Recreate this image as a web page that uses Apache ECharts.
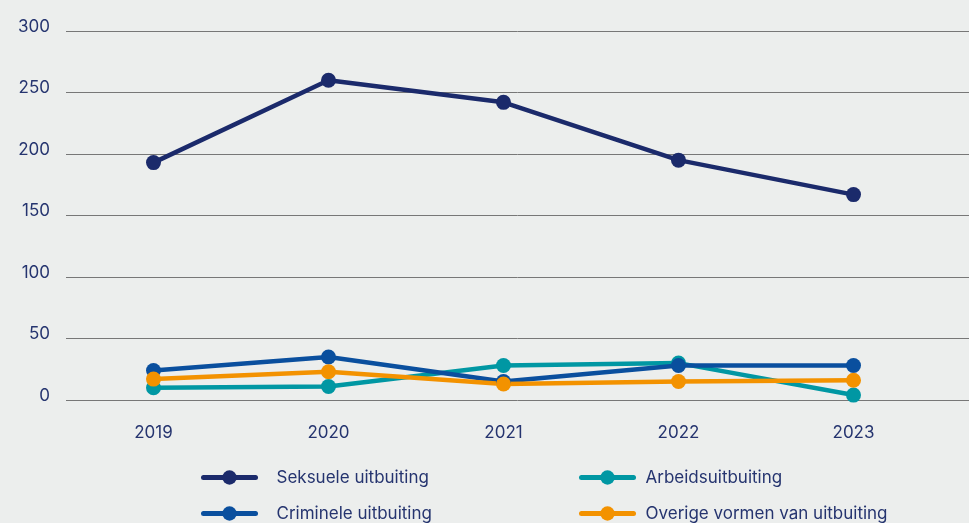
<!DOCTYPE html>
<html>
<head>
<meta charset="utf-8">
<script src="https://cdn.jsdelivr.net/npm/echarts@6/dist/echarts.min.js"></script>
<style>
  html, body { margin: 0; padding: 0; background: #eceeed; }
  #panel { width: 969px; height: 523px; }
</style>
</head>
<body>
<div id="panel"></div>
<script>
const years = ['2019', '2020', '2021', '2022', '2023'];
const seksuele = [193, 260, 242, 195, 167];
const arbeid = [10, 11, 28, 30, 4];
const criminele = [24, 35, 15, 28, 28];
const overige = [17, 23, 13, 15, 16];
const yTicks = [0, 50, 100, 150, 200, 250, 300];

const TEXT = '#25346f';
const FONT = 'Inter';
const COLORS = {
  seksuele: '#1b2a6b',
  arbeid: '#0097a3',
  criminele: '#0a4f9e',
  overige: '#f39200',
};

const makeSeries = (name, data, color) => ({
  name: name,
  type: 'line',
  data: data,
  xAxisIndex: 0,
  yAxisIndex: 0,
  symbol: 'circle',
  symbolSize: 15,
  itemStyle: { color: color },
  lineStyle: { color: color, width: 4.5 },
});

const legendBase = {
  orient: 'vertical',
  top: 469,
  height: 100,
  padding: 0,
  itemWidth: 52,
  itemHeight: 18,
  itemGap: 19,
  lineStyle: { width: 5, cap: 'round' },
};

const myChart = echarts.init(document.getElementById('panel'));

const option = {
  backgroundColor: '#eceeed',
  animation: false,
  textStyle: { fontFamily: FONT },
  grid: [
    // grid for the lines
    { left: 66, right: 28, top: 31, bottom: 123 },
    // grid only for the full width split lines + y labels
    { left: 66, right: 0, top: 31, bottom: 123 },
  ],
  xAxis: [
    {
      type: 'category',
      gridIndex: 0,
      data: years,
      axisLine: { show: false },
      axisTick: { show: false },
      axisLabel: { color: TEXT, fontSize: 17, margin: 24, fontFamily: FONT },
    },
    {
      type: 'value',
      gridIndex: 1,
      show: false,
    },
  ],
  yAxis: [
    {
      type: 'value',
      gridIndex: 0,
      min: 0,
      max: 300,
      interval: 50,
      show: false,
    },
    {
      type: 'value',
      gridIndex: 1,
      min: yTicks[0],
      max: yTicks[yTicks.length - 1],
      interval: yTicks[1] - yTicks[0],
      axisLine: { show: false },
      axisTick: { show: false },
      splitLine: { lineStyle: { color: '#777777', width: 1 } },
      axisLabel: {
        color: TEXT,
        fontSize: 17,
        fontFamily: FONT,
        margin: 16,
        verticalAlign: 'bottom',
        lineHeight: 9,
      },
    },
  ],
  legend: [
    Object.assign({}, legendBase, {
      data: ['Seksuele uitbuiting', 'Criminele uitbuiting'],
      left: 201,
      textStyle: { color: TEXT, fontSize: 17, fontFamily: FONT, padding: [0, 0, 0, 16] },
    }),
    Object.assign({}, legendBase, {
      data: ['Arbeidsuitbuiting', 'Overige vormen van uitbuiting'],
      left: 579,
      textStyle: { color: TEXT, fontSize: 17, fontFamily: FONT, padding: [0, 0, 0, 7] },
    }),
  ],
  series: [
    makeSeries('Seksuele uitbuiting', seksuele, COLORS.seksuele),
    makeSeries('Arbeidsuitbuiting', arbeid, COLORS.arbeid),
    makeSeries('Criminele uitbuiting', criminele, COLORS.criminele),
    makeSeries('Overige vormen van uitbuiting', overige, COLORS.overige),
  ],
};

myChart.setOption(option);
</script>
</body>
</html>
